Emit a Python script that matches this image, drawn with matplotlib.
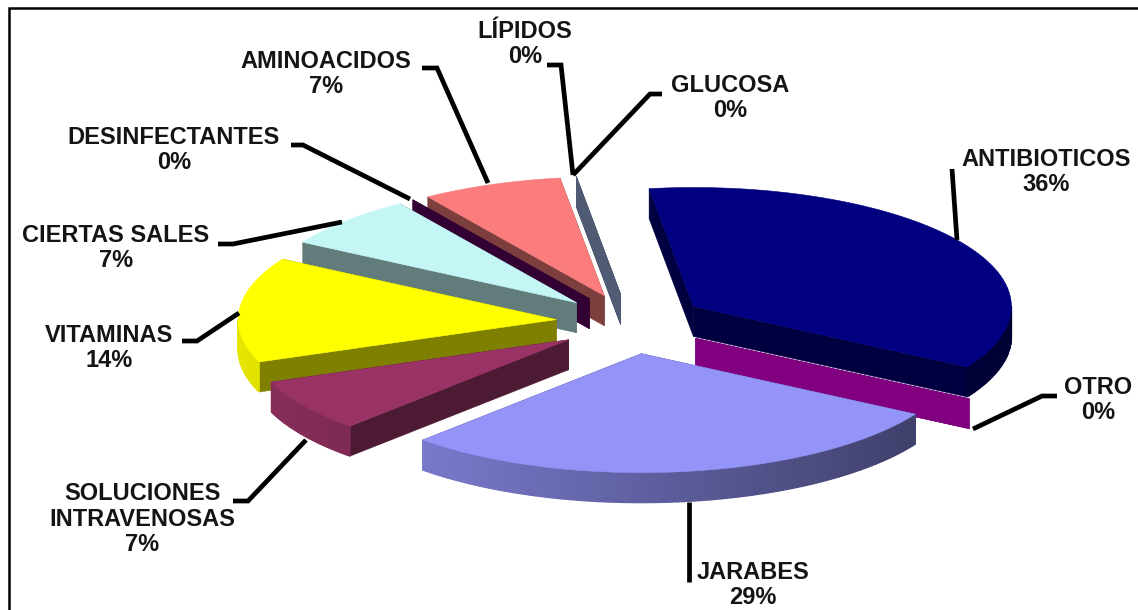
# exploded 3D pie of product counts, built by hand since matplotlib has no 3D pie
import numpy as np
import matplotlib.pyplot as plt
from matplotlib.patches import Polygon

# data
names = ['ANTIBIOTICOS', 'OTRO', 'JARABES', 'SOLUCIONES\nINTRAVENOSAS', 'VITAMINAS',
         'CIERTAS SALES', 'DESINFECTANTES', 'AMINOACIDOS', 'LÍPIDOS', 'GLUCOSA']
counts = [5, 0, 4, 1, 2, 1, 0, 1, 0, 0]
colors = ['#000080', '#FF00FF', '#9393F8', '#993366', '#FFFF00',
          '#C4F6F6', '#660066', '#FA7C7C', '#99B7E6', '#9DB6E6']

# pie geometry in pixels
center_x, center_y = 631, 322
radius = 318
squash = 0.374
explode = 75
front_stretch = 1.14  # slices towards the viewer sit a little lower
depth = 30
start_deg = -8

# label centres and leader lines, one per slice
label_xy = [(1046, 172), (1098, 400), (753, 585), (142, 519), (109, 348),
            (116, 248), (174, 150), (326, 74), (525, 44), (730, 98)]
leaders = [
    [(952, 169), (957, 240)],
    [(973, 429), (1042, 396), (1057, 396)],
    [(689, 502), (689, 582)],
    [(306, 440), (248, 501), (233, 501)],
    [(239, 313), (197, 341), (182, 341)],
    [(342, 222), (233, 244), (218, 244)],
    [(410, 199), (303, 145), (291, 145)],
    [(488, 183), (437, 68), (422, 68)],
    [(573, 175), (561, 65), (547, 65)],
    [(573, 175), (650, 94), (662, 94)],
]


def to_xy(cx, cy, theta, r):
    # theta in degrees, clockwise from 12 o'clock
    t = np.radians(theta)
    return cx + r * np.sin(t), cy - squash * r * np.cos(t)


def shade(color, f):
    rgb = np.array(plt.matplotlib.colors.to_rgb(color))
    return tuple(rgb * f)


def add_poly(ax, pts, color, lw=0.4):
    ax.add_patch(Polygon(pts, closed=True, facecolor=color, edgecolor=color, linewidth=lw))


fig = plt.figure(figsize=(11.38, 6.10), dpi=100)
ax = fig.add_axes([0, 0, 1, 1])
ax.set_xlim(0, 1138)
ax.set_ylim(610, 0)
ax.axis('off')

total = sum(counts)
spans = [c / total * 360 for c in counts]
starts = start_deg + np.concatenate([[0], np.cumsum(spans)[:-1]])
mids = starts + np.array(spans) / 2

# back slices first, so the front ones cover them
dist = np.abs(((mids - 180) + 180) % 360 - 180)
order = np.argsort(-dist, kind='stable')

for i in order:
    a0, a1 = starts[i], starts[i] + spans[i]
    cx, cy = to_xy(center_x, center_y, mids[i], explode)
    if cy > center_y:
        cy = center_y + (cy - center_y) * front_stretch
    wall = shade(colors[i], 0.5)

    # the two cut faces
    for a in (a0, a1):
        x, y = to_xy(cx, cy, a, radius)
        add_poly(ax, [(cx, cy), (x, y), (x, y + depth), (cx, cy + depth)], wall)

    # outer rim, lighter towards the left
    if spans[i] > 0:
        steps = np.arange(a0, a1, 1.0)
        steps = np.append(steps, a1)
        for s0, s1 in zip(steps[:-1], steps[1:]):
            if np.cos(np.radians((s0 + s1) / 2)) > 0:
                continue
            x0, y0 = to_xy(cx, cy, s0, radius)
            x1, y1 = to_xy(cx, cy, s1, radius)
            f = 0.65 - 0.25 * np.sin(np.radians((s0 + s1) / 2))
            add_poly(ax, [(x0, y0), (x1, y1), (x1, y1 + depth), (x0, y0 + depth)],
                     shade(colors[i], f), lw=1.0)

        # top face
        arc = np.linspace(a0, a1, 80)
        ax_pts = [(cx, cy)] + [to_xy(cx, cy, a, radius) for a in arc]
        add_poly(ax, ax_pts, colors[i])

# leader lines
for pts in leaders:
    xs, ys = zip(*pts)
    ax.plot(xs, ys, color='black', lw=3.4, solid_capstyle='butt', solid_joinstyle='miter')

# labels
for name, c, (x, y) in zip(names, counts, label_xy):
    ax.text(x, y, f'{name}\n{c / total:.0%}', ha='center', va='center', ma='center',
            family='Liberation Sans', weight='bold', fontsize=17, color='#141414',
            linespacing=1.12)

# only the top and left of the frame are inside the picture
ax.plot([9, 9, 1138], [610, 8, 8], color='black', lw=1.8, solid_joinstyle='miter')

fig.savefig('out.png', dpi=100)
